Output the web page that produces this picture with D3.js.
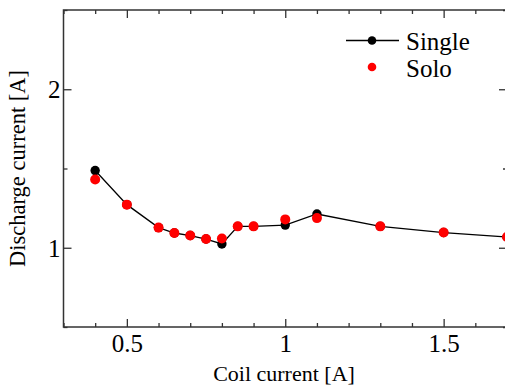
<!DOCTYPE html>
<html>
<head>
<meta charset="utf-8">
<script src="https://cdn.jsdelivr.net/npm/d3@7"></script>
<style>
  body { margin: 0; background: #fff; }
  svg { display: block; }
  text { font-family: "Liberation Serif", serif; fill: #000; }
</style>
</head>
<body>
<svg id="chart" width="505" height="385"></svg>
<script>
// coil current [A]
const coil = [0.4, 0.5, 0.6, 0.65, 0.7, 0.75, 0.8, 0.85, 0.9, 1.0, 1.1, 1.3, 1.5, 1.7];
// discharge current [A]
const single = [1.487, 1.272, 1.127, 1.093, 1.077, 1.055, 1.024, 1.135, 1.135, 1.143, 1.213, 1.135, 1.096, 1.068];
const solo = [1.431, 1.272, 1.127, 1.093, 1.077, 1.055, 1.058, 1.135, 1.135, 1.179, 1.187, 1.135, 1.096, 1.068];

const xMajor = [0.5, 1, 1.5];
const xMinor = [0.3, 0.4, 0.6, 0.7, 0.8, 0.9, 1.1, 1.2, 1.3, 1.4, 1.6, 1.7];
const yMajor = [1, 2];
const yMinor = [0.5, 1.5, 2.5];

const svg = d3.select('#chart');
const plotL = 63.5, plotR = 507, plotT = 10, plotB = 327;

const x = d3.scaleLinear().domain([0.3, 1.7]).range([plotL, plotR]);
const y = d3.scaleLinear().domain([0.5, 2.5]).range([plotB, plotT]);

const frameColor = '#333';
const serif = '"Liberation Serif", serif';

function styleAxis(g) {
    g.attr('font-family', serif).attr('font-size', 25);
    g.select('.domain').remove();
    g.selectAll('.tick line').attr('stroke', frameColor).attr('stroke-width', 1.3);
    g.selectAll('.tick text').attr('fill', '#000');
}

// bottom axis
svg.append('g').attr('transform', `translate(0,${plotB})`)
    .call(d3.axisBottom(x).tickValues(xMajor).tickSizeInner(-8).tickSizeOuter(0)
        .tickPadding(7).tickFormat(d3.format('')))
    .call(styleAxis);
svg.append('g').attr('transform', `translate(0,${plotB})`)
    .call(d3.axisBottom(x).tickValues(xMinor).tickSize(-4).tickFormat(''))
    .call(styleAxis);

// top axis
svg.append('g').attr('transform', `translate(0,${plotT})`)
    .call(d3.axisTop(x).tickValues(xMajor).tickSize(-8).tickFormat(''))
    .call(styleAxis);
svg.append('g').attr('transform', `translate(0,${plotT})`)
    .call(d3.axisTop(x).tickValues(xMinor).tickSize(-4).tickFormat(''))
    .call(styleAxis);

// left axis
svg.append('g').attr('transform', `translate(${plotL},0)`)
    .call(d3.axisLeft(y).tickValues(yMajor).tickSizeInner(-8).tickSizeOuter(0)
        .tickPadding(4).tickFormat(d3.format('')))
    .call(styleAxis)
    .selectAll('.tick text').attr('x', -3).attr('dy', '0.34em');
svg.append('g').attr('transform', `translate(${plotL},0)`)
    .call(d3.axisLeft(y).tickValues(yMinor).tickSize(-4).tickFormat(''))
    .call(styleAxis);

// right axis
svg.append('g').attr('transform', `translate(${plotR},0)`)
    .call(d3.axisRight(y).tickValues(yMajor).tickSize(-8).tickFormat(''))
    .call(styleAxis);
svg.append('g').attr('transform', `translate(${plotR},0)`)
    .call(d3.axisRight(y).tickValues(yMinor).tickSize(-4).tickFormat(''))
    .call(styleAxis);

// frame
svg.append('rect')
    .attr('x', plotL).attr('y', plotT)
    .attr('width', plotR - plotL).attr('height', plotB - plotT)
    .attr('fill', 'none').attr('stroke', frameColor).attr('stroke-width', 1.5);

// data
const singlePts = coil.map((c, i) => [c, single[i]]);
const soloPts = coil.map((c, i) => [c, solo[i]]);

svg.append('path')
    .datum(singlePts)
    .attr('fill', 'none')
    .attr('stroke', '#000')
    .attr('stroke-width', 1.3)
    .attr('d', d3.line().x(d => x(d[0])).y(d => y(d[1])));

svg.append('g').selectAll('circle')
    .data(singlePts).enter().append('circle')
    .attr('cx', d => x(d[0]))
    .attr('cy', d => y(d[1]))
    .attr('r', 4.7)
    .attr('fill', '#000');

svg.append('g').selectAll('circle')
    .data(soloPts).enter().append('circle')
    .attr('cx', d => x(d[0]))
    .attr('cy', d => y(d[1]))
    .attr('r', 5)
    .attr('fill', '#ff0000');

// legend
const legend = svg.append('g').attr('font-family', serif).attr('font-size', 25);
legend.append('line')
    .attr('x1', 346).attr('x2', 399).attr('y1', 40.5).attr('y2', 40.5)
    .attr('stroke', '#000').attr('stroke-width', 1.3);
legend.append('circle').attr('cx', 372).attr('cy', 40.5).attr('r', 4.3).attr('fill', '#000');
legend.append('circle').attr('cx', 372).attr('cy', 67).attr('r', 4.3).attr('fill', '#ff0000');
legend.append('text').attr('x', 406).attr('y', 50).text('Single');
legend.append('text').attr('x', 406).attr('y', 76.5).text('Solo');

// axis titles
svg.append('text')
    .attr('x', 284).attr('y', 381)
    .attr('text-anchor', 'middle')
    .attr('font-family', serif).attr('font-size', 22)
    .text('Coil current [A]');

svg.append('text')
    .attr('transform', `translate(25,${(plotT + plotB) / 2}) rotate(-90)`)
    .attr('text-anchor', 'middle')
    .attr('font-family', serif).attr('font-size', 22.5)
    .text('Discharge current [A]');
</script>
</body>
</html>
